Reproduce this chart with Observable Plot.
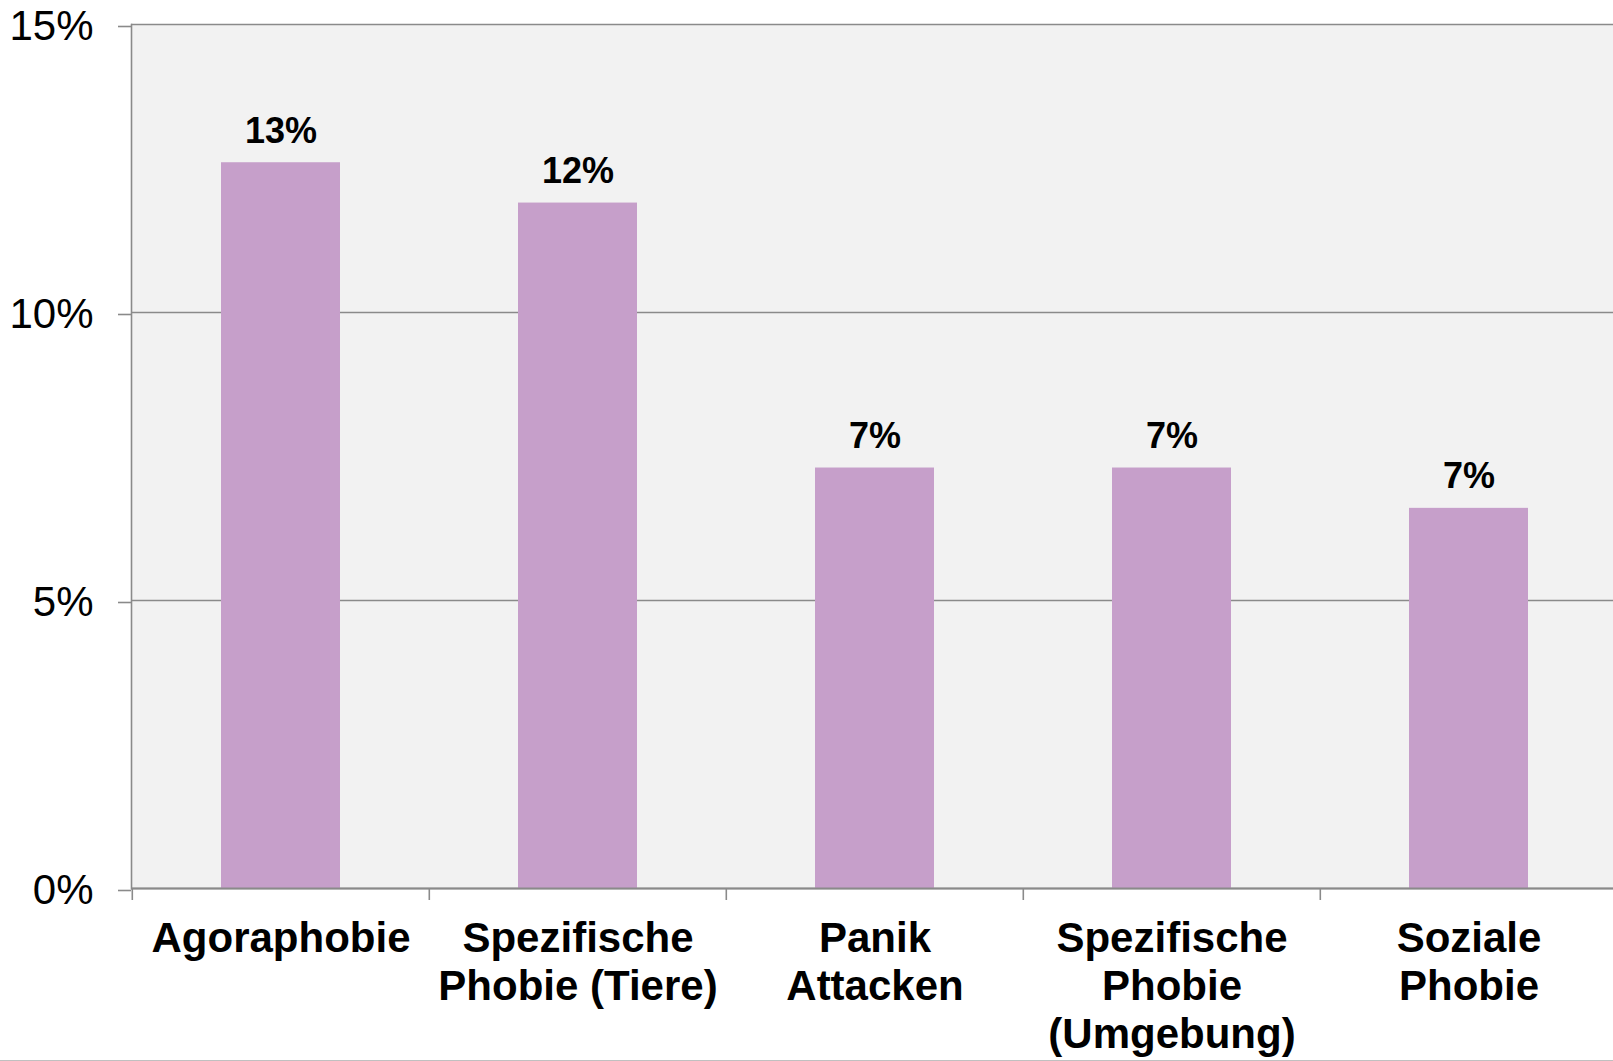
<!DOCTYPE html>
<html><head><meta charset="utf-8">
<script src="https://cdn.jsdelivr.net/npm/d3@7"></script>
<script src="https://cdn.jsdelivr.net/npm/@observablehq/plot@0.6"></script>
<style>
body{margin:0;background:#fff;}
#chart{width:1613px;height:1060px;border-bottom:1px solid #c0c0c0;overflow:hidden;}
svg{display:block;}
</style></head><body><div id="chart"></div>
<script>
const categories = ["Agoraphobie", "Spezifische\nPhobie (Tiere)", "Panik\nAttacken", "Spezifische\nPhobie\n(Umgebung)", "Soziale\nPhobie"];
const values = [12.6, 11.9, 7.3, 7.3, 6.6];
const valueLabels = ["13%", "12%", "7%", "7%", "7%"];
const yTicks = [0, 5, 10, 15];

const data = categories.map((c, i) => ({category: c, value: values[i], label: valueLabels[i]}));

const W = 1613, H = 1060, mL = 131, mR = -5, mT = 24, mB = 172;
const step = (W - mL - mR) / categories.length;
const gray = "#8a8a8a";

const chart = Plot.plot({
  width: W, height: H,
  marginLeft: mL, marginRight: mR, marginTop: mT, marginBottom: mB,
  style: {fontFamily: "'Liberation Sans', Arial, sans-serif", background: "transparent", color: "#000", overflow: "visible"},
  x: {domain: categories, paddingInner: 0.6, paddingOuter: 0.3, label: null},
  y: {domain: [0, 15], label: null},
  marks: [
    Plot.frame({fill: "#f2f2f2"}),
    Plot.ruleY(yTicks, {stroke: gray, strokeWidth: 1.6}),
    Plot.barY(data, {x: "category", y: "value", fill: "#c69fca"}),
    Plot.ruleY([0], {stroke: gray, strokeWidth: 1.8}),
    Plot.frame({anchor: "left", stroke: gray, strokeWidth: 1.6}),
    Plot.axisY(yTicks, {tickSize: 13, tickPadding: 25, dy: 2, tickFormat: d => d + "%", fontSize: 42, stroke: gray, fill: "#000", strokeWidth: 1.6, label: null}),
    Plot.axisX({tickSize: 12, tickFormat: () => "", dx: -step / 2, stroke: gray, strokeWidth: 1.6, label: null}),
    Plot.axisX({tickSize: 0, tickPadding: 29, fontSize: 42, fontWeight: "bold", lineHeight: 1.15, fill: "#000", label: null}),
    Plot.text(data, {x: "category", y: "value", text: "label", dy: -20, lineAnchor: "bottom", fontSize: 36, fontWeight: "bold", fill: "#000"})
  ]
});
document.getElementById("chart").appendChild(chart);
</script>
</body></html>
